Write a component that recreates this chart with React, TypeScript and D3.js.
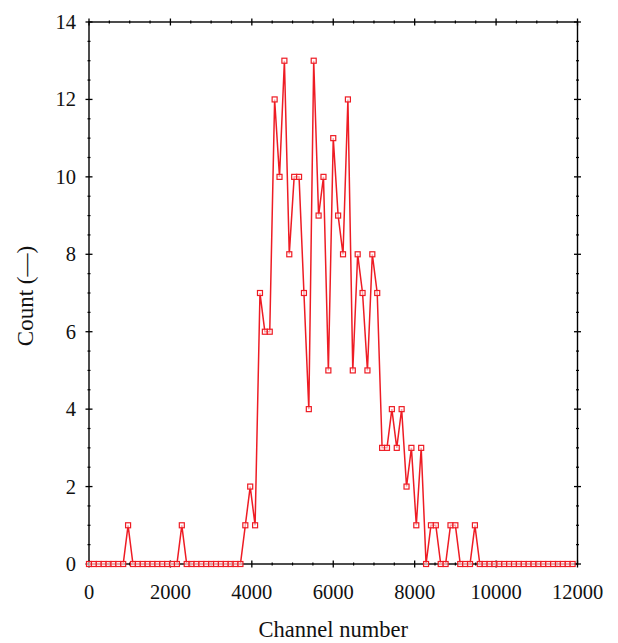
import React from "react";
import * as d3 from "d3";

const channelStep = 120;
const counts = [
  0, 0, 0, 0, 0, 0, 0, 0, 1, 0,
  0, 0, 0, 0, 0, 0, 0, 0, 0, 1,
  0, 0, 0, 0, 0, 0, 0, 0, 0, 0,
  0, 0, 1, 2, 1, 7, 6, 6, 12, 10,
  13, 8, 10, 10, 7, 4, 13, 9, 10, 5,
  11, 9, 8, 12, 5, 8, 7, 5, 8, 7,
  3, 3, 4, 3, 4, 2, 3, 1, 3, 0,
  1, 1, 0, 0, 1, 1, 0, 0, 0, 1,
  0, 0, 0, 0, 0, 0, 0, 0, 0, 0,
  0, 0, 0, 0, 0, 0, 0, 0, 0, 0,
];
const xTicks = [0, 2000, 4000, 6000, 8000, 10000, 12000];
const yTicks = [0, 2, 4, 6, 8, 10, 12, 14];
const xLabel = "Channel number";
const yLabel = "Count (—)";

const W = 618, H = 643;
const L = 89, R = 577.5, T = 22, B = 564;
const RED = "#ee1c24";
const FONT = "'Liberation Serif', 'Times New Roman', serif";

export default function App() {
  const x = d3.scaleLinear().domain([0, 12000]).range([L, R]);
  const y = d3.scaleLinear().domain([0, 14]).range([B, T]);
  const data = counts.map((c, i) => ({ ch: i * channelStep, c }));
  const line = d3.line<{ ch: number; c: number }>().x(d => x(d.ch)).y(d => y(d.c));
  const xMinor = d3.range(0, 12001, 500).filter(v => !xTicks.includes(v));
  const yMinor = d3.range(0, 14.01, 0.5).filter(v => !yTicks.includes(v));
  const maj = 3.5, min = 1.5;
  return (
    <svg width={W} height={H} style={{ position: "absolute", left: 0, top: 0 }}>
      <rect x={0} y={0} width={W} height={H} fill="white" />
      <rect x={L} y={T} width={R - L} height={B - T} fill="none" stroke="#000" strokeWidth={1.4} />
      {xTicks.map(v => (
        <g key={"xt" + v}>
          <line x1={x(v)} x2={x(v)} y1={B - maj} y2={B + maj} stroke="#000" strokeWidth={1.3} />
          <line x1={x(v)} x2={x(v)} y1={T - maj} y2={T + maj} stroke="#000" strokeWidth={1.3} />
          <text x={x(v)} y={599} textAnchor="middle" fontFamily={FONT} fontSize={20.5} fill="#111">{v}</text>
        </g>
      ))}
      {xMinor.map(v => (
        <g key={"xm" + v}>
          <line x1={x(v)} x2={x(v)} y1={B - min} y2={B + min} stroke="#000" strokeWidth={1.2} />
          <line x1={x(v)} x2={x(v)} y1={T - min} y2={T + min} stroke="#000" strokeWidth={1.2} />
        </g>
      ))}
      {yTicks.map(v => (
        <g key={"yt" + v}>
          <line x1={L - maj} x2={L + maj} y1={y(v)} y2={y(v)} stroke="#000" strokeWidth={1.3} />
          <line x1={R - maj} x2={R + maj} y1={y(v)} y2={y(v)} stroke="#000" strokeWidth={1.3} />
          <text x={76} y={y(v) + 7} textAnchor="end" fontFamily={FONT} fontSize={20.5} fill="#111">{v}</text>
        </g>
      ))}
      {yMinor.map(v => (
        <g key={"ym" + v}>
          <line x1={L - min} x2={L + min} y1={y(v)} y2={y(v)} stroke="#000" strokeWidth={1.2} />
          <line x1={R - min} x2={R + min} y1={y(v)} y2={y(v)} stroke="#000" strokeWidth={1.2} />
        </g>
      ))}
      <path d={line(data) ?? ""} fill="none" stroke={RED} strokeWidth={1.5} />
      {data.map((d, i) => (
        <rect key={i} x={x(d.ch) - 2.5} y={y(d.c) - 2.5} width={5} height={5} fill="white" fillOpacity={0.6} stroke={RED} strokeWidth={1.2} />
      ))}
      <text x={(L + R) / 2} y={637} textAnchor="middle" fontFamily={FONT} fontSize={22.5} fill="#111">{xLabel}</text>
      <text transform={`translate(33, 296) rotate(-90)`} textAnchor="middle" fontFamily={FONT} fontSize={23} fill="#111">{yLabel}</text>
    </svg>
  );
}
